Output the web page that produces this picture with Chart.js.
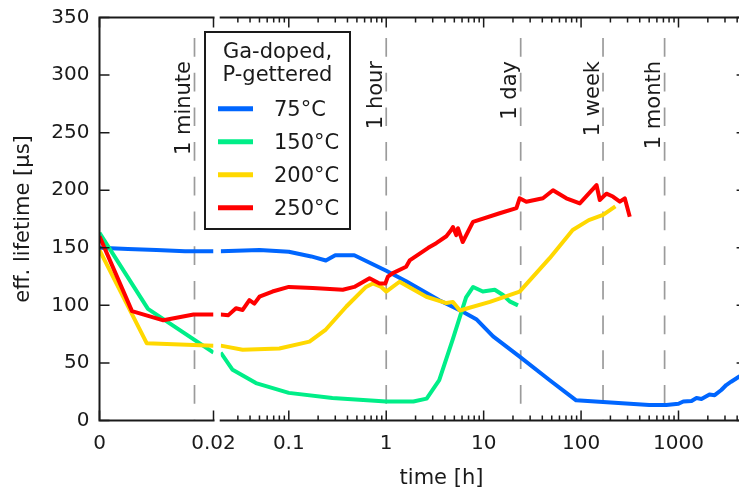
<!DOCTYPE html>
<html>
<head>
<meta charset="utf-8">
<script src="https://cdn.jsdelivr.net/npm/chart.js@4.4.1/dist/chart.umd.min.js"></script>
<style>
  html, body { margin: 0; padding: 0; background: #fff; overflow: hidden; }
  #wrap { position: relative; width: 739px; height: 490px; overflow: hidden; background: #fff; }
  #wrap canvas { position: absolute; left: 0; top: 0; }
</style>
</head>
<body>
<div id="wrap">
  <canvas id="early" width="240" height="490"></canvas>
  <canvas id="late" width="760" height="490"></canvas>
</div>
<script>
// Effective lifetime of Ga-doped, P-gettered samples during annealing
const seriesLabels = ['75°C', '150°C', '200°C', '250°C'];
const seriesColors = ['#0066ff', '#00ee88', '#ffd800', '#ff0000'];

const hours75 = [0, 0.005, 0.01, 0.015, 0.02, 0.05, 0.1, 0.17, 0.24, 0.3, 0.47, 1, 1.6, 3.5, 6.1, 8.4, 12.5, 23.4, 47.7, 89, 168, 317, 500, 750, 1000, 1120, 1360, 1530, 1720, 2080, 2350, 2750, 3090, 3470, 4170, 5000];
const tau75 = [150, 149, 148, 147, 147, 148, 146.5, 142.5, 139, 143.5, 143.5, 130, 121, 104.5, 94.5, 88, 73, 55.5, 35, 17.5, 16, 14.5, 13.5, 13.5, 14.5, 16.5, 17, 19.5, 18.7, 22.5, 22, 26.5, 30.8, 33.7, 38, 43];

const hours150 = [0, 0.0085, 0.02, 0.0265, 0.046, 0.1, 0.28, 1, 1.9, 2.6, 3.5, 4.8, 6.6, 7.8, 9.8, 13, 15.8, 18.5, 22.5];
const tau150 = [163, 97, 59, 44, 32.5, 24, 19.5, 16.5, 16.5, 19, 35, 70, 107, 116, 112, 113.5, 109, 103.5, 100];

const hours200 = [0, 0.0083, 0.02, 0.0336, 0.08, 0.163, 0.24, 0.39, 0.62, 0.73, 0.89, 1, 1.37, 2.58, 4.14, 4.84, 5.7, 11.6, 23.4, 47.6, 82, 120, 168, 225];
const tau200 = [148, 67, 65, 61.5, 62.5, 68.5, 79, 99, 116, 119, 116, 112, 120.5, 107.5, 102, 103, 95.5, 103, 112, 141, 165.5, 174, 178.5, 186];

const hours250 = [0, 0.0057, 0.0112, 0.0165, 0.02, 0.024, 0.0287, 0.0336, 0.0394, 0.0443, 0.05, 0.068, 0.1, 0.176, 0.358, 0.47, 0.674, 0.853, 0.98, 1.04, 1.17, 1.6, 1.74, 2.7, 3.26, 4.14, 4.6, 4.84, 5.24, 5.45, 6.1, 7.77, 14.6, 21.7, 23.4, 27.4, 40.6, 51.5, 70.6, 97, 144, 155.6, 182, 212, 250, 281, 316];
const tau250 = [160, 95, 87, 92, 92, 91.5, 97.5, 96, 104.5, 101.5, 107.5, 112, 116, 115, 113.5, 116, 123.5, 119, 119, 125, 128, 133.5, 139, 150, 154, 160, 165, 168, 161, 167, 155, 172.5, 180, 184.5, 193, 190, 193, 200, 193, 188.5, 204.5, 191.5, 197, 194.5, 190, 193, 177];

// Axis ticks and reference times
const yTickValues = [0, 50, 100, 150, 200, 250, 300, 350];
const earlyTickValues = [0, 0.02];
const lateTickValues = [0.1, 1, 10, 100, 1000];
const markerHours = [1 / 60, 1, 24, 168, 720];
const markerLabels = ['1 minute', '1 hour', '1 day', '1 week', '1 month'];
const legendTitle = ['Ga-doped,', 'P-gettered'];

const BREAK_H = 0.02;   // end of the linear part / start of the log part
const MAX_H = 5000;
const INK = '#1a1a1a';
const FONT = "'DejaVu Sans', sans-serif";

Chart.defaults.font.family = FONT;
Chart.defaults.color = INK;
Chart.defaults.animation = false;

const series = [
  { hours: hours75, tau: tau75 },
  { hours: hours150, tau: tau150 },
  { hours: hours200, tau: tau200 },
  { hours: hours250, tau: tau250 }
];

function buildDatasets(keep) {
  return series.map((s, i) => ({
    label: seriesLabels[i],
    data: s.hours.map((h, k) => ({ x: h, y: s.tau[k] })).filter(p => keep(p.x)),
    borderColor: seriesColors[i],
    backgroundColor: seriesColors[i],
    borderWidth: 4,
    borderJoinStyle: 'round',
    pointRadius: 0,
    tension: 0,
    fill: false,
    order: series.length - i
  }));
}

// minor log ticks (2..9 per decade) inside the log range
const lateMinorTicks = [];
[0.01, 0.1, 1, 10, 100, 1000].forEach(d => {
  for (let k = 2; k <= 9; k++) {
    const v = k * d;
    if (v > BREAK_H * 1.0001 && v < MAX_H) lateMinorTicks.push(v);
  }
});

// fixed axis sizes so both parts share the same plot band
function fixHeight(s) { s.height = 69.5; s.paddingLeft = 0; s.paddingRight = 0; }
function fixWidth(s) { s.width = 99.5; s.paddingTop = 0; s.paddingBottom = 0; }

// Frame with inward tick marks (broken axes: left part has left spine, right part has right spine)
const axesFrame = {
  id: 'axesFrame',
  afterDatasetsDraw(chart, args, opts) {
    const { ctx, chartArea: a, scales: { x, y } } = chart;
    ctx.save();
    ctx.strokeStyle = INK;
    ctx.lineCap = 'square';
    ctx.lineWidth = 2;
    ctx.beginPath();
    ctx.moveTo(a.left, a.top); ctx.lineTo(a.right, a.top);
    ctx.moveTo(a.left, a.bottom); ctx.lineTo(a.right, a.bottom);
    const sx = opts.side === 'left' ? a.left : a.right;
    ctx.moveTo(sx, a.top); ctx.lineTo(sx, a.bottom);
    ctx.stroke();

    ctx.lineCap = 'butt';
    ctx.lineWidth = 1.5;
    ctx.beginPath();
    const xTick = (v, len) => {
      const px = x.getPixelForValue(v);
      ctx.moveTo(px, a.bottom); ctx.lineTo(px, a.bottom - len);
      ctx.moveTo(px, a.top); ctx.lineTo(px, a.top + len);
    };
    opts.major.forEach(v => xTick(v, 10));
    opts.minor.forEach(v => xTick(v, 5));
    const dir = opts.side === 'left' ? 1 : -1;
    yTickValues.forEach(v => {
      const py = y.getPixelForValue(v);
      ctx.moveTo(sx, py); ctx.lineTo(sx + dir * 10, py);
    });
    ctx.stroke();
    ctx.restore();
  }
};

// Dashed reference times with rotated captions
const timeMarkers = {
  id: 'timeMarkers',
  beforeDatasetsDraw(chart) {
    const { ctx, chartArea: a, scales: { x } } = chart;
    markerHours.forEach((h, i) => {
      if (h < x.min || h > x.max) return;
      const px = x.getPixelForValue(h);
      ctx.save();
      ctx.strokeStyle = '#9b9b9b';
      ctx.lineWidth = 1.7;
      ctx.setLineDash([18.7, 16]);
      ctx.beginPath();
      ctx.moveTo(px, a.top + 20.5);
      ctx.lineTo(px, a.bottom);
      ctx.stroke();
      ctx.setLineDash([]);
      ctx.translate(px - 4.5, 61);
      ctx.rotate(-Math.PI / 2);
      ctx.font = '21px ' + FONT;
      ctx.fillStyle = INK;
      ctx.textAlign = 'right';
      ctx.textBaseline = 'alphabetic';
      ctx.fillText(markerLabels[i], 0, 0);
      ctx.restore();
    });
  }
};

// Boxed legend with two-line title
const legendBox = {
  id: 'legendBox',
  afterDraw(chart) {
    const ctx = chart.ctx;
    ctx.save();
    ctx.fillStyle = '#fff';
    ctx.fillRect(205, 32, 145, 197);
    ctx.strokeStyle = INK;
    ctx.lineWidth = 2;
    ctx.strokeRect(205, 32, 145, 197);
    ctx.font = '21px ' + FONT;
    ctx.fillStyle = INK;
    ctx.textBaseline = 'alphabetic';
    ctx.textAlign = 'center';
    legendTitle.forEach((t, i) => ctx.fillText(t, 277.5, 58 + i * 23));
    seriesLabels.forEach((lab, i) => {
      const yy = 108.7 + i * 33;
      ctx.strokeStyle = seriesColors[i];
      ctx.lineWidth = 5;
      ctx.beginPath();
      ctx.moveTo(218, yy); ctx.lineTo(253, yy);
      ctx.stroke();
      ctx.textAlign = 'left';
      ctx.fillText(lab, 274, yy + 7.6);
    });
    ctx.restore();
  }
};

// Shared x-axis caption under both parts
const timeCaption = {
  id: 'timeCaption',
  afterDraw(chart) {
    const ctx = chart.ctx;
    ctx.save();
    ctx.font = '21px ' + FONT;
    ctx.fillStyle = INK;
    ctx.textAlign = 'center';
    ctx.textBaseline = 'alphabetic';
    ctx.fillText('time [h]', 441.5, 484);
    ctx.restore();
  }
};

const tickFont = { size: 20 };

// Early part: linear time axis 0 .. 0.02 h
new Chart(document.getElementById('early'), {
  type: 'line',
  data: { datasets: buildDatasets(h => h <= BREAK_H) },
  options: {
    responsive: false,
    animation: false,
    layout: { padding: { left: 0, right: 26.5, top: 17.5, bottom: 0 } },
    plugins: { legend: { display: false }, tooltip: { enabled: false }, axesFrame: { side: 'left', major: earlyTickValues, minor: [] } },
    scales: {
      x: {
        type: 'linear', min: 0, max: BREAK_H,
        grid: { display: false, drawTicks: false }, border: { display: false },
        afterBuildTicks: s => { s.ticks = earlyTickValues.map(v => ({ value: v })); },
        afterFit: fixHeight,
        ticks: { font: tickFont, padding: 11, maxRotation: 0, autoSkip: false, callback: v => String(v) }
      },
      y: {
        type: 'linear', min: 0, max: 350,
        grid: { display: false, drawTicks: false }, border: { display: false },
        afterBuildTicks: s => { s.ticks = yTickValues.map(v => ({ value: v })); },
        afterFit: fixWidth,
        ticks: { font: tickFont, padding: 10 },
        title: { display: true, text: 'eff. lifetime [µs]', font: { size: 21 }, padding: { top: 11, bottom: 0 } }
      }
    }
  },
  plugins: [timeMarkers, axesFrame]
});

// Late part: logarithmic time axis 0.02 .. 5000 h
new Chart(document.getElementById('late'), {
  type: 'line',
  data: { datasets: buildDatasets(h => h >= BREAK_H) },
  options: {
    responsive: false,
    animation: false,
    layout: { padding: { left: 220.7, right: 13.4, top: 17.5, bottom: 0 } },
    plugins: { legend: { display: false }, tooltip: { enabled: false }, axesFrame: { side: 'right', major: lateTickValues, minor: lateMinorTicks } },
    scales: {
      x: {
        type: 'logarithmic', min: BREAK_H, max: MAX_H,
        grid: { display: false, drawTicks: false }, border: { display: false },
        afterBuildTicks: s => { s.ticks = lateTickValues.map(v => ({ value: v })); },
        afterFit: fixHeight,
        ticks: { font: tickFont, padding: 11, maxRotation: 0, autoSkip: false, callback: v => String(v) }
      },
      y: { type: 'linear', min: 0, max: 350, display: false }
    }
  },
  plugins: [timeMarkers, axesFrame, legendBox, timeCaption]
});
</script>
</body>
</html>
